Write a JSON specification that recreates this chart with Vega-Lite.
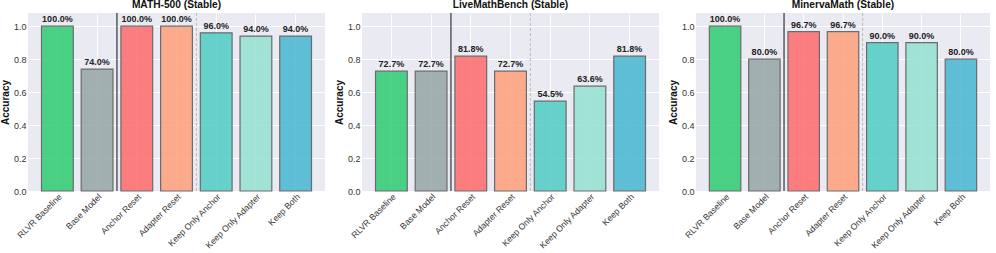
{
  "$schema": "https://vega.github.io/schema/vega-lite/v6.json",
  "padding": {"left": 0, "top": 0, "right": 0, "bottom": 0},
  "config": {
    "font": "Liberation Sans",
    "view": {"fill": "#EAEAF2", "stroke": null},
    "concat": {"spacing": 9},
    "title": {"fontSize": 10.2, "fontWeight": "bold", "color": "#111", "offset": 2},
    "axis": {
      "domain": false, "ticks": false, "grid": true, "gridColor": "#FFFFFF", "gridWidth": 1,
      "labelFontSize": 9, "labelColor": "#333", "titleFontSize": 10, "titleFontWeight": "bold", "titleColor": "#111", "labelOverlap": false
    }
  },
  "datasets": {
    "acc": [
      {"bench": "MATH-500", "method": "RLVR Baseline", "value": 1.0},
      {"bench": "MATH-500", "method": "Base Model", "value": 0.74},
      {"bench": "MATH-500", "method": "Anchor Reset", "value": 1.0},
      {"bench": "MATH-500", "method": "Adapter Reset", "value": 1.0},
      {"bench": "MATH-500", "method": "Keep Only Anchor", "value": 0.96},
      {"bench": "MATH-500", "method": "Keep Only Adapter", "value": 0.94},
      {"bench": "MATH-500", "method": "Keep Both", "value": 0.94},
      {"bench": "LiveMathBench", "method": "RLVR Baseline", "value": 0.727},
      {"bench": "LiveMathBench", "method": "Base Model", "value": 0.727},
      {"bench": "LiveMathBench", "method": "Anchor Reset", "value": 0.818},
      {"bench": "LiveMathBench", "method": "Adapter Reset", "value": 0.727},
      {"bench": "LiveMathBench", "method": "Keep Only Anchor", "value": 0.545},
      {"bench": "LiveMathBench", "method": "Keep Only Adapter", "value": 0.636},
      {"bench": "LiveMathBench", "method": "Keep Both", "value": 0.818},
      {"bench": "MinervaMath", "method": "RLVR Baseline", "value": 1.0},
      {"bench": "MinervaMath", "method": "Base Model", "value": 0.8},
      {"bench": "MinervaMath", "method": "Anchor Reset", "value": 0.967},
      {"bench": "MinervaMath", "method": "Adapter Reset", "value": 0.967},
      {"bench": "MinervaMath", "method": "Keep Only Anchor", "value": 0.9},
      {"bench": "MinervaMath", "method": "Keep Only Adapter", "value": 0.9},
      {"bench": "MinervaMath", "method": "Keep Both", "value": 0.8}
    ],
    "seps": [
      {"method": "Anchor Reset", "kind": "solid"},
      {"method": "Keep Only Anchor", "kind": "dashed"}
    ]
  },
  "hconcat": [
    {
      "width": 297, "height": 178,
      "title": "MATH-500 (Stable)",
      "layer": [
        {
          "data": {"name": "acc"},
          "transform": [{"filter": "datum.bench === 'MATH-500'"}],
          "mark": {"type": "bar", "width": {"band": 0.8}, "opacity": 0.85, "stroke": "#555", "strokeWidth": 1.2},
          "encoding": {
            "x": {"field": "method", "type": "nominal", "scale": {"domain": ["RLVR Baseline", "Base Model", "Anchor Reset", "Adapter Reset", "Keep Only Anchor", "Keep Only Adapter", "Keep Both"], "paddingInner": 0, "paddingOuter": 0.24}, "axis": {"title": null, "labelAngle": -45, "labelAlign": "right", "labelBaseline": "top", "labelPadding": 1, "labelFontSize": 8.7}},
            "y": {"field": "value", "type": "quantitative", "scale": {"domain": [0, 1.08], "nice": false}, "axis": {"title": "Accuracy", "values": [0, 0.2, 0.4, 0.6, 0.8, 1.0], "tickCount": 12, "format": ".1f", "labelPadding": 2, "titlePadding": 3}},
            "color": {"field": "method", "type": "nominal", "legend": null, "scale": {"domain": ["RLVR Baseline", "Base Model", "Anchor Reset", "Adapter Reset", "Keep Only Anchor", "Keep Only Adapter", "Keep Both"], "range": ["#2ecc71", "#95a5a6", "#ff6b6b", "#ffa07a", "#4ecdc4", "#95e1d3", "#45b7d1"]}}
          }
        },
        {
          "data": {"name": "acc"},
          "transform": [{"filter": "datum.bench === 'MATH-500'"}],
          "mark": {"type": "text", "baseline": "bottom", "dy": -2, "fontSize": 9, "fontWeight": "bold", "color": "#222"},
          "encoding": {
            "x": {"field": "method", "type": "nominal"},
            "y": {"field": "value", "type": "quantitative"},
            "text": {"field": "value", "type": "quantitative", "format": ".1%"}
          }
        },
        {
          "data": {"name": "seps"},
          "transform": [{"filter": "datum.kind === 'solid'"}],
          "mark": {"type": "rule", "color": "#444", "strokeWidth": 1.3},
          "encoding": {"x": {"field": "method", "type": "nominal", "bandPosition": 0}}
        },
        {
          "data": {"name": "seps"},
          "transform": [{"filter": "datum.kind === 'dashed'"}],
          "mark": {"type": "rule", "color": "#bbb", "strokeWidth": 1, "strokeDash": [3, 2]},
          "encoding": {"x": {"field": "method", "type": "nominal", "bandPosition": 0}}
        }
      ]
    },
    {
      "width": 297, "height": 178,
      "title": "LiveMathBench (Stable)",
      "layer": [
        {
          "data": {"name": "acc"},
          "transform": [{"filter": "datum.bench === 'LiveMathBench'"}],
          "mark": {"type": "bar", "width": {"band": 0.8}, "opacity": 0.85, "stroke": "#555", "strokeWidth": 1.2},
          "encoding": {
            "x": {"field": "method", "type": "nominal", "scale": {"domain": ["RLVR Baseline", "Base Model", "Anchor Reset", "Adapter Reset", "Keep Only Anchor", "Keep Only Adapter", "Keep Both"], "paddingInner": 0, "paddingOuter": 0.24}, "axis": {"title": null, "labelAngle": -45, "labelAlign": "right", "labelBaseline": "top", "labelPadding": 1, "labelFontSize": 8.7}},
            "y": {"field": "value", "type": "quantitative", "scale": {"domain": [0, 1.08], "nice": false}, "axis": {"title": "Accuracy", "values": [0, 0.2, 0.4, 0.6, 0.8, 1.0], "tickCount": 12, "format": ".1f", "labelPadding": 2, "titlePadding": 3}},
            "color": {"field": "method", "type": "nominal", "legend": null, "scale": {"domain": ["RLVR Baseline", "Base Model", "Anchor Reset", "Adapter Reset", "Keep Only Anchor", "Keep Only Adapter", "Keep Both"], "range": ["#2ecc71", "#95a5a6", "#ff6b6b", "#ffa07a", "#4ecdc4", "#95e1d3", "#45b7d1"]}}
          }
        },
        {
          "data": {"name": "acc"},
          "transform": [{"filter": "datum.bench === 'LiveMathBench'"}],
          "mark": {"type": "text", "baseline": "bottom", "dy": -2, "fontSize": 9, "fontWeight": "bold", "color": "#222"},
          "encoding": {
            "x": {"field": "method", "type": "nominal"},
            "y": {"field": "value", "type": "quantitative"},
            "text": {"field": "value", "type": "quantitative", "format": ".1%"}
          }
        },
        {
          "data": {"name": "seps"},
          "transform": [{"filter": "datum.kind === 'solid'"}],
          "mark": {"type": "rule", "color": "#444", "strokeWidth": 1.3},
          "encoding": {"x": {"field": "method", "type": "nominal", "bandPosition": 0}}
        },
        {
          "data": {"name": "seps"},
          "transform": [{"filter": "datum.kind === 'dashed'"}],
          "mark": {"type": "rule", "color": "#bbb", "strokeWidth": 1, "strokeDash": [3, 2]},
          "encoding": {"x": {"field": "method", "type": "nominal", "bandPosition": 0}}
        }
      ]
    },
    {
      "width": 294, "height": 178,
      "title": "MinervaMath (Stable)",
      "layer": [
        {
          "data": {"name": "acc"},
          "transform": [{"filter": "datum.bench === 'MinervaMath'"}],
          "mark": {"type": "bar", "width": {"band": 0.8}, "opacity": 0.85, "stroke": "#555", "strokeWidth": 1.2},
          "encoding": {
            "x": {"field": "method", "type": "nominal", "scale": {"domain": ["RLVR Baseline", "Base Model", "Anchor Reset", "Adapter Reset", "Keep Only Anchor", "Keep Only Adapter", "Keep Both"], "paddingInner": 0, "paddingOuter": 0.24}, "axis": {"title": null, "labelAngle": -45, "labelAlign": "right", "labelBaseline": "top", "labelPadding": 1, "labelFontSize": 8.7}},
            "y": {"field": "value", "type": "quantitative", "scale": {"domain": [0, 1.08], "nice": false}, "axis": {"title": "Accuracy", "values": [0, 0.2, 0.4, 0.6, 0.8, 1.0], "tickCount": 12, "format": ".1f", "labelPadding": 2, "titlePadding": 3}},
            "color": {"field": "method", "type": "nominal", "legend": null, "scale": {"domain": ["RLVR Baseline", "Base Model", "Anchor Reset", "Adapter Reset", "Keep Only Anchor", "Keep Only Adapter", "Keep Both"], "range": ["#2ecc71", "#95a5a6", "#ff6b6b", "#ffa07a", "#4ecdc4", "#95e1d3", "#45b7d1"]}}
          }
        },
        {
          "data": {"name": "acc"},
          "transform": [{"filter": "datum.bench === 'MinervaMath'"}],
          "mark": {"type": "text", "baseline": "bottom", "dy": -2, "fontSize": 9, "fontWeight": "bold", "color": "#222"},
          "encoding": {
            "x": {"field": "method", "type": "nominal"},
            "y": {"field": "value", "type": "quantitative"},
            "text": {"field": "value", "type": "quantitative", "format": ".1%"}
          }
        },
        {
          "data": {"name": "seps"},
          "transform": [{"filter": "datum.kind === 'solid'"}],
          "mark": {"type": "rule", "color": "#444", "strokeWidth": 1.3},
          "encoding": {"x": {"field": "method", "type": "nominal", "bandPosition": 0}}
        },
        {
          "data": {"name": "seps"},
          "transform": [{"filter": "datum.kind === 'dashed'"}],
          "mark": {"type": "rule", "color": "#bbb", "strokeWidth": 1, "strokeDash": [3, 2]},
          "encoding": {"x": {"field": "method", "type": "nominal", "bandPosition": 0}}
        }
      ]
    }
  ]
}
